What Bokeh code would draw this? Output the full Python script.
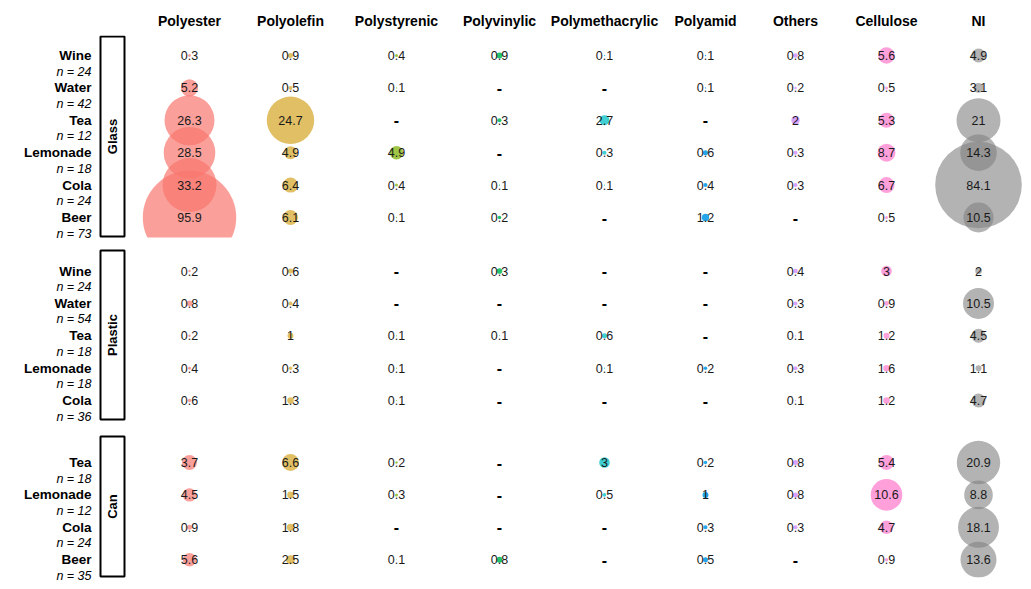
import numpy as np
from bokeh.plotting import figure
from bokeh.layouts import column
from bokeh.models import Range1d
from bokeh.core.properties import value
from bokeh.embed import file_html
from bokeh.resources import INLINE

# ---------------- data ----------------
polymers = ["Polyester", "Polyolefin", "Polystyrenic", "Polyvinylic", "Polymethacrylic",
            "Polyamid", "Others", "Cellulose", "NI"]
# column centre of each polymer on the shared horizontal scale
polymer_pos = [189, 290, 396, 499, 604, 705, 795, 886, 978]
polymer_colors = ["#F8766D", "#D6A628", "#7CAE00", "#00B956", "#00BFC4",
                  "#0096E6", "#C77CFF", "#FF61C3", "#808080"]
polymer_alpha = [0.7, 0.72, 0.72, 0.85, 0.75, 0.85, 0.7, 0.6, 0.6]

containers = ["Glass", "Plastic", "Can"]

glass_drinks = ["Wine", "Water", "Tea", "Lemonade", "Cola", "Beer"]
glass_n = [24, 42, 12, 18, 24, 73]
glass_values = [
    [0.3, 0.9, 0.4, 0.9, 0.1, 0.1, 0.8, 5.6, 4.9],
    [5.2, 0.5, 0.1, None, None, 0.1, 0.2, 0.5, 3.1],
    [26.3, 24.7, None, 0.3, 2.7, None, 2, 5.3, 21],
    [28.5, 4.9, 4.9, None, 0.3, 0.6, 0.3, 8.7, 14.3],
    [33.2, 6.4, 0.4, 0.1, 0.1, 0.4, 0.3, 6.7, 84.1],
    [95.9, 6.1, 0.1, 0.2, None, 1.2, None, 0.5, 10.5],
]
glass_bubble = [
    [0.1, 0.28, 0.1, 0.4, 0.02, 0.02, 0.23, 3.05, 2.17],
    [3.3, 0.18, 0.02, None, None, 0.02, 0.064, 0.1, 1.1],
    [27.7, 24.9, None, 0.18, 1.1, None, 0.78, 2.5, 21.45],
    [29.5, 1.87, 2.0, None, 0.18, 0.28, 0.18, 3.6, 14.8],
    [32.3, 2.5, 0.1, 0.02, 0.02, 0.18, 0.18, 2.84, 83.1],
    [96.7, 2.5, 0.02, 0.14, None, 0.6, None, 0.1, 10.0],
]

plastic_drinks = ["Wine", "Water", "Tea", "Lemonade", "Cola"]
plastic_n = [24, 54, 18, 18, 36]
plastic_values = [
    [0.2, 0.6, None, 0.3, None, None, 0.4, 3, 2],
    [0.8, 0.4, None, None, None, None, 0.3, 0.9, 10.5],
    [0.2, 1, 0.1, 0.1, 0.6, None, 0.1, 1.2, 4.5],
    [0.4, 0.3, 0.1, None, 0.1, 0.2, 0.3, 1.6, 1.1],
    [0.6, 1.3, 0.1, None, None, None, 0.1, 1.2, 4.7],
]
plastic_bubble = [
    [0.064, 0.28, None, 0.35, None, None, 0.23, 1.25, 0.48],
    [0.35, 0.18, None, None, None, None, 0.18, 0.23, 10.65],
    [0.064, 0.4, 0.02, 0.01, 0.28, None, 0.02, 0.4, 2.17],
    [0.1, 0.13, 0.02, None, 0.02, 0.13, 0.18, 0.48, 0.4],
    [0.14, 0.48, 0.02, None, None, None, 0.02, 0.48, 2.17],
]

can_drinks = ["Tea", "Lemonade", "Cola", "Beer"]
can_n = [18, 12, 24, 35]
can_values = [
    [3.7, 6.6, 0.2, None, 3, 0.2, 0.8, 5.4, 20.9],
    [4.5, 1.5, 0.3, None, 0.5, 1, 0.8, 10.6, 8.8],
    [0.9, 1.8, None, None, None, 0.3, 0.3, 4.7, 18.1],
    [5.6, 2.5, 0.1, 0.8, None, 0.5, None, 0.9, 13.6],
]
can_bubble = [
    [2.5, 3.2, 0.064, None, 1.25, 0.13, 0.28, 2.5, 20.9],
    [2.0, 0.48, 0.1, None, 0.14, 0.4, 0.28, 11.07, 9.06],
    [0.28, 0.6, None, None, None, 0.18, 0.18, 2.0, 18.6],
    [2.0, 0.9, 0.01, 0.4, None, 0.28, None, 0.14, 14.4],
]

# ---------------- styling / layout ----------------
FONT = "Liberation Sans"
K = 4.75          # bubble radius (px) per sqrt(unit)
W = 1031
LABEL_X = 91
STRIP_L, STRIP_R = 100, 124
STRIP_C = 112
DATA_LEFT = 130
ROW_SP = 32.4     # px per row

# canvas geometry per panel: figure top/bottom, box (panel) top/bottom, first row
panel_geom = {
    "Glass":   dict(fig=(35, 243), box=(35, 237), row0=55.0),
    "Plastic": dict(fig=(243, 428), box=(249, 420), row0=270.5),
    "Can":     dict(fig=(428, 586), box=(435, 577), row0=462.0),
}


def make_fig(h, y_start, y_end):
    p = figure(width=W, height=h, x_range=Range1d(0, W),
               y_range=Range1d(y_start, y_end), output_backend="svg",
               toolbar_location=None, x_axis_location=None, y_axis_location=None,
               min_border_left=0, min_border_right=0, min_border_top=0,
               min_border_bottom=0)
    p.grid.visible = False
    p.outline_line_color = None
    p.title.visible = False
    return p


# header
HEADER_H = 35
header = make_fig(HEADER_H, 0, HEADER_H)
header.text(x=polymer_pos, y=[HEADER_H - 20] * len(polymers), text=polymers,
            text_font=value(FONT), text_font_style="bold", text_font_size="14px",
            text_align="center", text_baseline="middle", text_color="#000000")

figs = [header]
panel_data = {
    "Glass": (glass_drinks, glass_n, glass_values, glass_bubble),
    "Plastic": (plastic_drinks, plastic_n, plastic_values, plastic_bubble),
    "Can": (can_drinks, can_n, can_values, can_bubble),
}

for cont in containers:
    drinks, ns, vals, bubs = panel_data[cont]
    g = panel_geom[cont]
    ftop, fbot = g["fig"]
    btop, bbot = g["box"]
    r0 = g["row0"]

    def to_row(px):
        return (px - r0) / ROW_SP

    p = make_fig(fbot - ftop, to_row(fbot), to_row(ftop))  # reversed: first row at top

    # bubbles
    for j, pol in enumerate(polymers):
        xs, ys, ss = [], [], []
        for i in range(len(drinks)):
            b = bubs[i][j]
            if b is not None:
                xs.append(polymer_pos[j])
                ys.append(i)
                ss.append(2 * K * np.sqrt(b))
        if xs:
            p.scatter(x=xs, y=ys, size=ss, marker="circle", fill_color=polymer_colors[j],
                      fill_alpha=polymer_alpha[j], line_color=None)

    # mask outside the panel (panel clipping)
    p.quad(left=[DATA_LEFT, DATA_LEFT], right=[W, W],
           top=[to_row(ftop), to_row(bbot)], bottom=[to_row(btop), to_row(fbot)],
           fill_color="white", line_color=None)

    # value labels & dashes
    tx, ty, tt, dx, dy = [], [], [], [], []
    for i in range(len(drinks)):
        for j in range(len(polymers)):
            v = vals[i][j]
            if v is None:
                dx.append(polymer_pos[j]); dy.append(i)
            else:
                tx.append(polymer_pos[j]); ty.append(i); tt.append(f"{v:g}")
    p.text(x=tx, y=ty, text=tt, text_font=value(FONT), text_font_size="12.5px",
           text_align="center", text_baseline="middle", text_color="#1a1a1a")
    p.text(x=dx, y=dy, text=["-"] * len(dx), text_font=value(FONT),
           text_font_size="16px", text_font_style="bold",
           text_align="center", text_baseline="middle", text_color="#000000")

    # row labels
    rows = list(range(len(drinks)))
    p.text(x=[LABEL_X] * len(drinks), y=rows, text=drinks, text_font=value(FONT),
           text_font_style="bold", text_font_size="13.5px", text_align="right",
           text_baseline="middle", text_color="#000000")
    p.text(x=[LABEL_X] * len(drinks), y=rows, text=[f"n = {n}" for n in ns],
           y_offset=16, text_font=value(FONT), text_font_style="italic",
           text_font_size="12.5px", text_align="right", text_baseline="middle",
           text_color="#000000")

    # strip
    p.quad(left=[STRIP_L], right=[STRIP_R], top=[to_row(btop + 1)], bottom=[to_row(bbot - 1)],
           fill_color="white", line_color="black", line_width=2)
    p.text(x=[STRIP_C], y=[to_row((btop + bbot) / 2)], text=[cont], angle=np.pi / 2,
           text_font=value(FONT), text_font_style="bold", text_font_size="13px",
           text_align="center", text_baseline="middle", text_color="#000000")
    figs.append(p)

layout = column(*figs, spacing=0)
open("out.html", "w").write(file_html(layout, INLINE))
